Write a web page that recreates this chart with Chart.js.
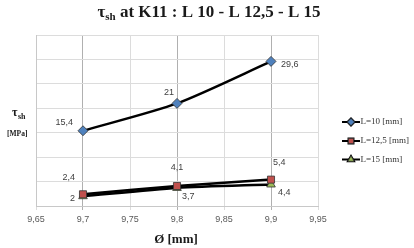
<!DOCTYPE html>
<html><head><meta charset="utf-8">
<script src="https://cdn.jsdelivr.net/npm/chart.js@4/dist/chart.umd.min.js"></script>
<style>html,body{margin:0;padding:0;background:#fff}#wrap{width:414px;height:248px}</style>
</head><body><div id="wrap"><canvas id="c" width="414" height="248"></canvas></div>
<script>
const diameters = [9.7, 9.8, 9.9];
const seriesNames = ['L=10 [mm]', 'L=12,5 [mm]', 'L=15 [mm]'];
const tauL10 = [15.4, 21, 29.6];
const tauL125 = [2.4, 4.1, 5.4];
const tauL15 = [2, 3.7, 4.4];
const xTicks = [9.65, 9.7, 9.75, 9.8, 9.85, 9.9, 9.95];

const fmt = v => String(v).replace('.', ',');
const pts = arr => diameters.map((d, i) => ({x: d, y: arr[i]}));

// label offsets [dx, dy, align]
const labelOffsets = [
  [[-10, -8, 'right'], [-3, -11, 'right'], [10, 3, 'left']],
  [[-8, -17, 'right'], [0, -18, 'center'], [2, -17, 'left']],
  [[-8, 2, 'right'], [5, 9, 'left'], [7, 8, 'left']]
];

const overlay = {
  id: 'overlay',
  afterDatasetsDraw(chart) {
    const ctx = chart.ctx;
    ctx.save();
    ctx.fillStyle = '#404040';
    ctx.font = '9px "Liberation Sans", sans-serif';
    ctx.textBaseline = 'middle';
    chart.data.datasets.forEach((ds, di) => {
      const meta = chart.getDatasetMeta(di);
      meta.data.forEach((el, i) => {
        const o = labelOffsets[di][i];
        ctx.textAlign = o[2];
        ctx.fillText(fmt(ds.data[i].y), el.x + o[0], el.y + o[1]);
      });
    });
    ctx.restore();
  },
  afterDraw(chart) {
    const ctx = chart.ctx;
    ctx.save();
    ctx.fillStyle = '#1a1a1a';
    // title with subscript
    ctx.textBaseline = 'alphabetic';
    ctx.textAlign = 'left';
    const big = 'bold 17px "Liberation Serif", serif';
    const sub = 'bold 11px "Liberation Serif", serif';
    const rest = ' at K11 : L 10 - L 12,5 - L 15';
    ctx.font = big; const w1 = ctx.measureText('τ').width; const w3 = ctx.measureText(rest).width;
    ctx.font = sub; const w2 = ctx.measureText('sh').width;
    let x = 209 - (w1 + w2 + w3) / 2;
    const by = 17;
    ctx.font = big; ctx.fillText('τ', x, by); x += w1;
    ctx.font = sub; ctx.fillText('sh', x, by + 3); x += w2;
    ctx.font = big; ctx.fillText(rest, x, by);
    // y title
    ctx.font = 'bold 12px "Liberation Serif", serif';
    ctx.fillText('τ', 12, 116);
    ctx.font = 'bold 8px "Liberation Serif", serif';
    ctx.fillText('sh', 18, 119);
    ctx.font = 'bold 7.5px "Liberation Serif", serif';
    ctx.fillText('[MPa]', 7, 136);
    // x title
    ctx.font = 'bold 13px "Liberation Serif", serif';
    ctx.textAlign = 'center';
    ctx.fillText('Ø [mm]', 176, 243);
    // legend
    ctx.textAlign = 'left';
    ctx.textBaseline = 'middle';
    const ly = [122, 141, 159.5];
    chart.data.datasets.forEach((ds, di) => {
      const y = ly[di];
      ctx.strokeStyle = '#000'; ctx.lineWidth = 2;
      ctx.beginPath(); ctx.moveTo(342, y); ctx.lineTo(360, y); ctx.stroke();
      Chart.helpers.drawPoint(ctx, {pointStyle: ds.pointStyle, radius: 3.5, borderWidth: 1}, 351, y);
      ctx.fillStyle = ds.pointBackgroundColor; ctx.fill();
      ctx.strokeStyle = '#333'; ctx.lineWidth = 0.8;
      Chart.helpers.drawPoint(ctx, {pointStyle: ds.pointStyle, radius: 3.5, borderWidth: 0.8}, 351, y);
      ctx.fillStyle = '#333';
      ctx.font = '9px "Liberation Serif", serif';
      ctx.fillText(seriesNames[di], 360.5, y);
    });
    ctx.restore();
  }
};

const mk = (i, data, style, color) => ({
  label: seriesNames[i], data: pts(data),
  borderColor: '#000', borderWidth: 2.5,
  pointStyle: style, pointRadius: 5,
  pointBackgroundColor: color, pointBorderColor: '#333', pointBorderWidth: 0.8,
  tension: 0.25
});

new Chart(document.getElementById('c'), {
  type: 'line',
  data: {datasets: [
    mk(0, tauL10, 'rectRot', '#4f81bd'),
    mk(1, tauL125, 'rect', '#c0504d'),
    mk(2, tauL15, 'triangle', '#9bbb59')
  ]},
  options: {
    responsive: false, animation: false, devicePixelRatio: 1,
    layout: {padding: {left: 36, right: 96, top: 35, bottom: 22}},
    plugins: {legend: {display: false}, title: {display: false}, tooltip: {enabled: false}},
    scales: {
      x: {
        type: 'linear', min: 9.65, max: 9.95,
        afterBuildTicks: s => { s.ticks = xTicks.map(v => ({value: v})); },
        afterFit: s => { s.height = 20; },
        ticks: {callback: v => fmt(+v.toFixed(2)), color: '#595959', font: {size: 9, family: '"Liberation Sans", sans-serif'}, padding: 4, maxRotation: 0},
        grid: {color: c => [9.7, 9.8, 9.9].some(v => Math.abs(c.tick.value - v) < 1e-6) ? '#b0b0b0' : '#dcdcdc', lineWidth: 1, drawTicks: true, tickLength: 4},
        border: {color: '#c8c8c8'}
      },
      y: {
        min: 0, max: 35, ticks: {display: false, stepSize: 5},
        afterFit: s => { s.width = 0; },
        grid: {color: '#dcdcdc', lineWidth: 1, drawTicks: false},
        border: {color: '#c8c8c8'}
      }
    }
  },
  plugins: [overlay]
});
</script></body></html>
